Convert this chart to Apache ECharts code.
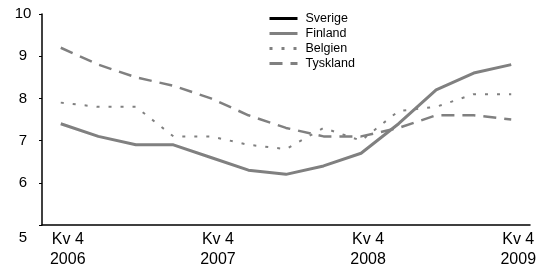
<!DOCTYPE html>
<html>
<head>
<meta charset="utf-8">
<script src="https://cdn.jsdelivr.net/npm/echarts@6/dist/echarts.min.js"></script>
<style>
html,body{margin:0;padding:0;background:#fff;}
#chart{width:549px;height:270px;}
</style>
</head>
<body>
<div id="chart"></div>
<script>
var categories = ['Kv 4\n2006','Kv 1 2007','Kv 2 2007','Kv 3 2007','Kv 4\n2007','Kv 1 2008','Kv 2 2008','Kv 3 2008','Kv 4\n2008','Kv 1 2009','Kv 2 2009','Kv 3 2009','Kv 4\n2009'];
var sverige = [null,null,null,null,null,null,null,null,null,null,null,null,null];
var finland = [7.4,7.1,6.9,6.9,6.6,6.3,6.2,6.4,6.7,7.4,8.2,8.6,8.8];
var belgien = [7.9,7.8,7.8,7.1,7.1,6.9,6.8,7.3,7.0,7.7,7.8,8.1,8.1];
var tyskland = [9.2,8.8,8.5,8.3,8.0,7.6,7.3,7.1,7.1,7.3,7.6,7.6,7.5];
var yTicks = [5,6,7,8,9,10];

var font = 'Liberation Sans, Arial, sans-serif';
var chart = echarts.init(document.getElementById('chart'), null, {renderer:'canvas'});
chart.setOption({
  animation:false,
  backgroundColor:'#ffffff',
  grid:{left:42,right:19,top:14,bottom:44},
  legend:{
    orient:'vertical', left:263, top:7, itemWidth:28, itemHeight:12, itemGap:2,
    itemStyle:{opacity:0},
    lineStyle:{width:3},
    textStyle:{fontFamily:font,fontSize:12.5,lineHeight:12,color:'#000',padding:[0,0,0,3]},
    data:['Sverige','Finland','Belgien','Tyskland']
  },
  xAxis:{
    type:'category', data:categories, boundaryGap:true,
    axisLine:{lineStyle:{color:'#000',width:1.5}},
    axisTick:{show:false},
    axisLabel:{interval:3, color:'#000', fontFamily:font, fontSize:16, lineHeight:20, margin:5, padding:[0,0,0,14]}
  },
  yAxis:{
    type:'value', min:yTicks[0], max:yTicks[yTicks.length-1], interval:1,
    axisLine:{show:true,lineStyle:{color:'#000',width:1.5}},
    axisTick:{show:true,length:3,lineStyle:{color:'#000'}},
    splitLine:{show:false},
    axisLabel:{color:'#000',fontFamily:font,fontSize:15,margin:19,align:'center',
      formatter:function(v){return v===yTicks[0] ? '{low|'+v+'}' : String(v);},
      rich:{low:{fontFamily:font,fontSize:15,color:'#000',padding:[26,0,0,0]}}}
  },
  series:[
    {name:'Sverige',type:'line',data:sverige,symbol:'none',lineStyle:{color:'#000',width:3},itemStyle:{color:'#000'}},
    {name:'Finland',type:'line',data:finland,symbol:'none',lineStyle:{color:'#808080',width:3},itemStyle:{color:'#808080'}},
    {name:'Belgien',type:'line',data:belgien,symbol:'none',lineStyle:{color:'#808080',width:2,type:[3,9]},itemStyle:{color:'#808080'}},
    {name:'Tyskland',type:'line',data:tyskland,symbol:'none',lineStyle:{color:'#808080',width:2.5,type:[13,8]},itemStyle:{color:'#808080'}}
  ]
});
</script>
</body>
</html>
